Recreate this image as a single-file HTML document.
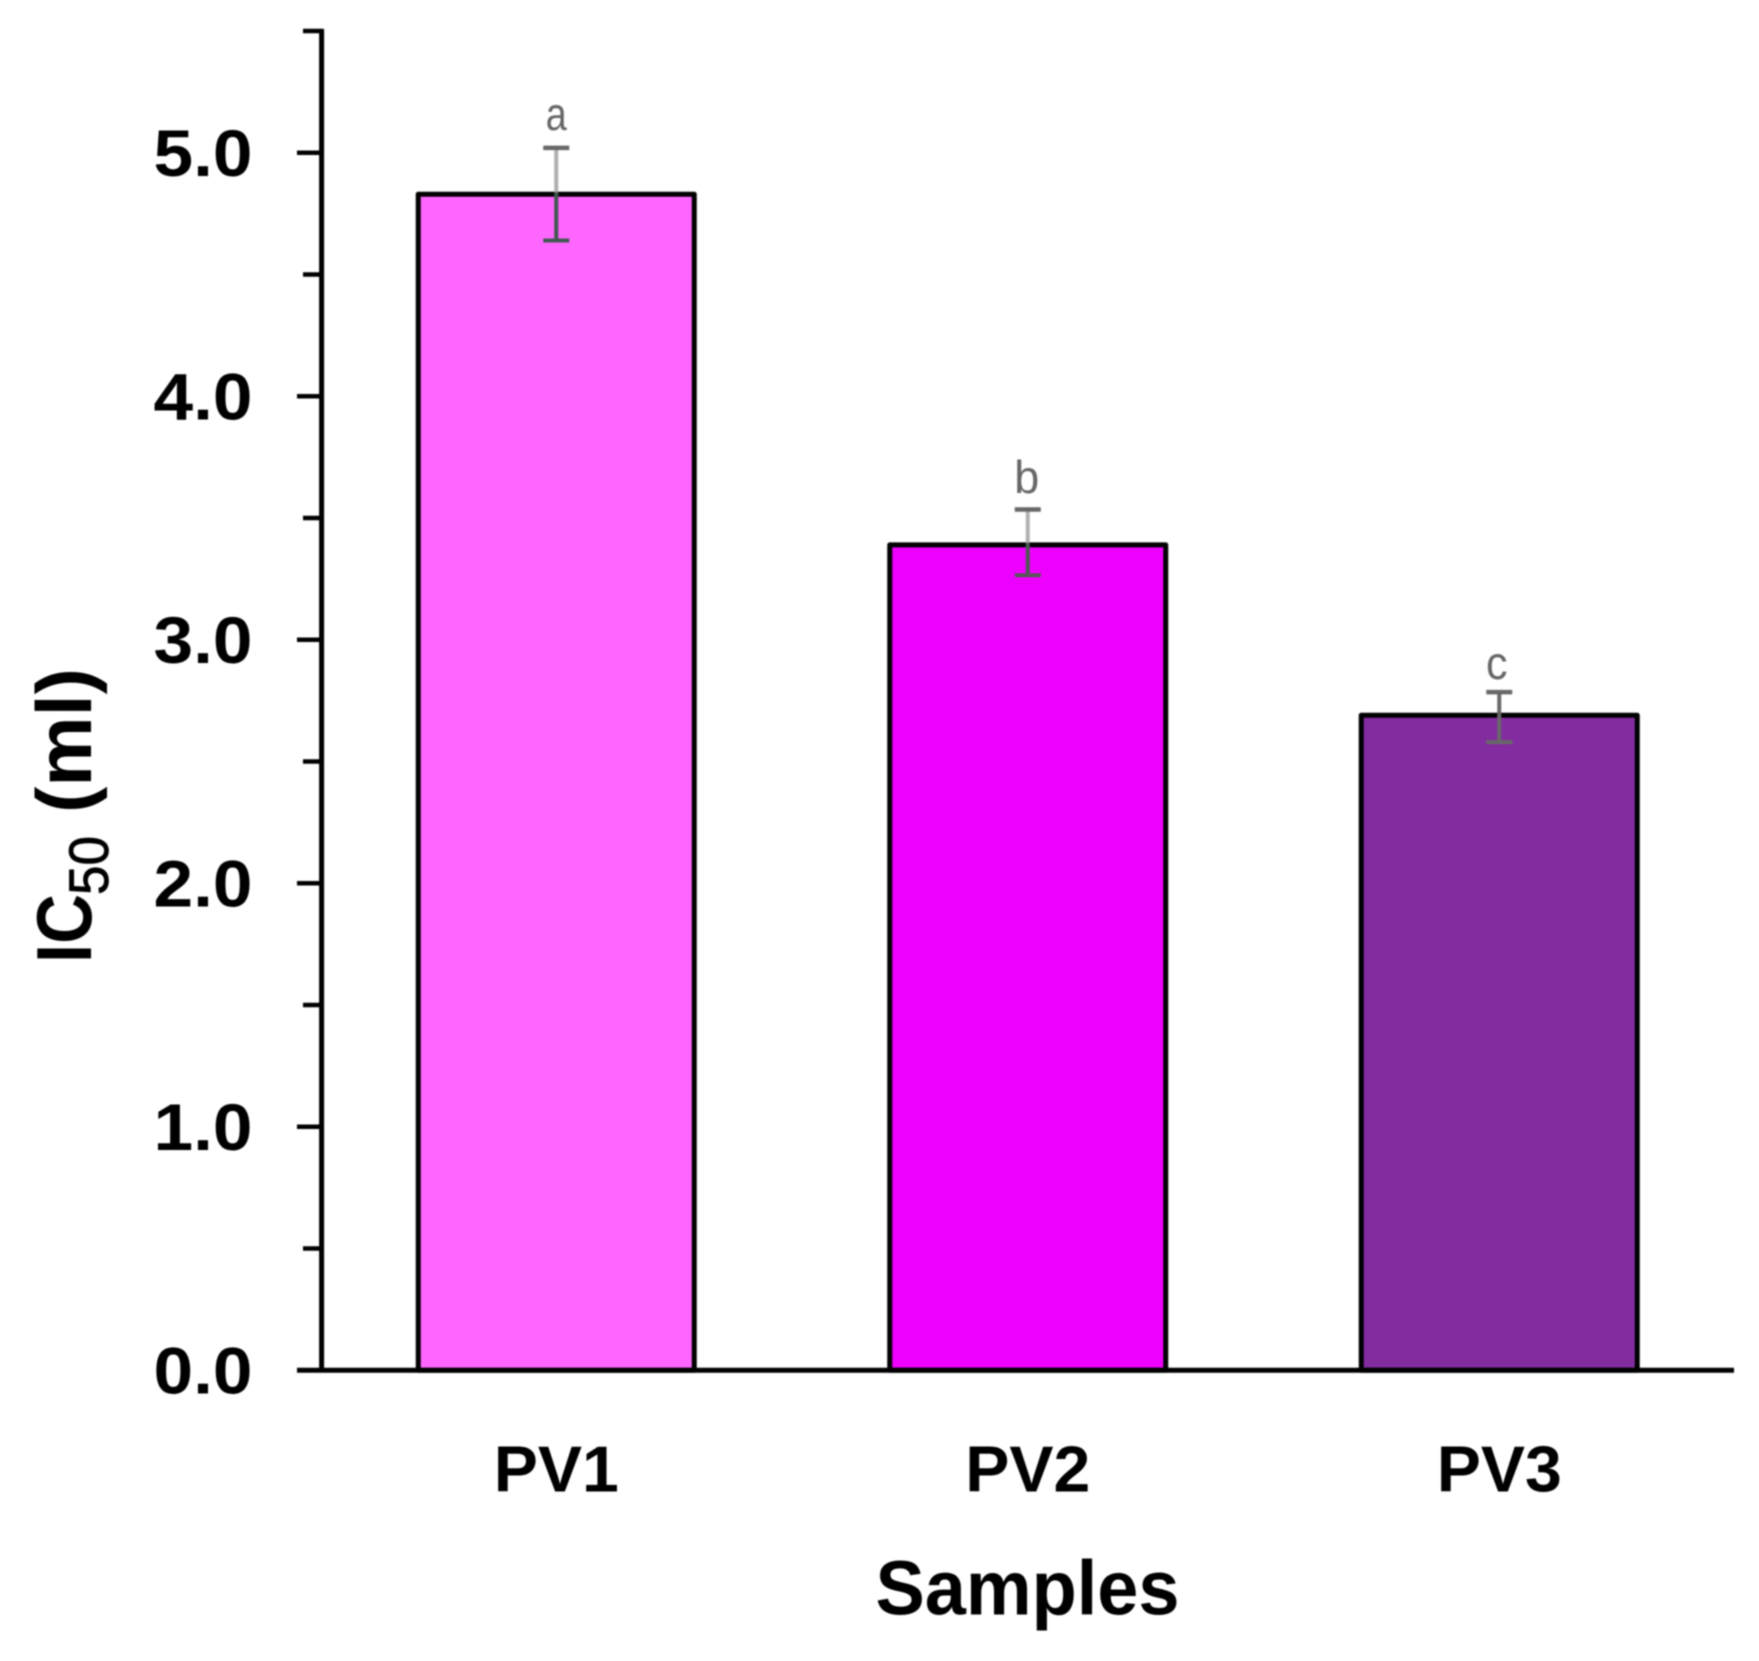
<!DOCTYPE html>
<html lang="en">
<head>
<meta charset="utf-8">
<title>IC50 by sample</title>
<style>
  html, body { margin: 0; padding: 0; background: #ffffff; }
  body { width: 1759px; height: 1661px; overflow: hidden; }
  svg { display: block; filter: blur(0.8px); }
  text { font-family: "Liberation Sans", sans-serif; }
</style>
</head>
<body>
<svg id="chart" xmlns="http://www.w3.org/2000/svg" width="1759" height="1661" viewBox="0 0 1759 1661">
  <rect x="0" y="0" width="1759" height="1661" fill="#ffffff"></rect>
  <g id="bars"></g>
  <g id="axes"></g>
  <g id="errors"></g>
  <g id="letters"></g>
  <g id="y-labels"></g>
  <g id="x-labels"></g>
  <text x="1027.5" y="1614.5" text-anchor="middle" font-size="77" font-weight="700" textLength="304" lengthAdjust="spacingAndGlyphs" fill="#000">Samples</text>
  <g transform="translate(91,958) rotate(-90)">
    <text x="-5" y="0" font-size="78" font-weight="700" textLength="69" lengthAdjust="spacingAndGlyphs" fill="#000">IC</text>
    <text x="63" y="17" font-size="56" font-weight="400" stroke="#000" stroke-width="0.8" textLength="59" lengthAdjust="spacingAndGlyphs" fill="#000">50</text>
    <text x="145" y="0" font-size="78" font-weight="700" textLength="145" lengthAdjust="spacingAndGlyphs" fill="#000">(ml)</text>
  </g>
</svg>
<script>
const categories = ["PV1", "PV2", "PV3"];
const values = [4.83, 3.39, 2.69];
const errorHigh = [5.02, 3.535, 2.785];
const errorLow = [4.64, 3.265, 2.58];
const letterLabels = ["a", "b", "c"];
const yTickValues = [0, 0.5, 1, 1.5, 2, 2.5, 3, 3.5, 4, 4.5, 5, 5.5];
const yTickLabels = ["0.0", "", "1.0", "", "2.0", "", "3.0", "", "4.0", "", "5.0", ""];

const barFills = ["#ff66ff", "#ee00ff", "#832ca0"];
const stemUpperColors = ["#b0b0b0", "#b0b0b0", "#686868"];
const stemLowerColors = ["#40584f", "#4a5a50", "#686868"];
const capUpperColors = ["#686868", "#686868", "#686868"];
const capLowerColors = ["#3f5a50", "#585858", "#686868"];
const letterGaps = [18, 16.5, 13.3];
const letterShifts = [0, -1, -2.5];
const letterWidths = [21, 25, 21.5];

const SVG_NS = "http://www.w3.org/2000/svg";
const zeroY = 1370.3, unitPx = 243.5;
const plotLeft = 320.5, bandPx = 471.5, barPx = 276;
const yAxisX = 321.6, axisRight = 1734;

function yScale(v) { return zeroY - unitPx * v; }
function xScale(i) { return plotLeft + bandPx * (i + 0.5); }

function make(parentId, tag, attrs, content) {
  const el = document.createElementNS(SVG_NS, tag);
  for (const k in attrs) el.setAttribute(k, attrs[k]);
  if (content !== undefined) el.textContent = content;
  document.getElementById(parentId).appendChild(el);
  return el;
}
function line(parentId, x1, y1, x2, y2, stroke, width) {
  return make(parentId, "line", { x1, y1, x2, y2, stroke, "stroke-width": width });
}

categories.forEach(function (cat, i) {
  const cx = xScale(i);
  const top = yScale(values[i]);
  const bar = make("bars", "rect", {
    x: cx - barPx / 2, y: top, width: barPx, height: zeroY - top,
    fill: barFills[i], stroke: "#000", "stroke-width": 5, "stroke-linejoin": "round"
  });
  
  

  const hi = yScale(errorHigh[i]), lo = yScale(errorLow[i]);
  const upper = line("errors", cx, hi, cx, top - 2, stemUpperColors[i], 4);
  
  
  const lower = line("errors", cx, top - 2, cx, lo, stemLowerColors[i], 4);
  
  
  const capHi = line("errors", cx - 13, hi, cx + 13, hi, capUpperColors[i], 4.5);
  
  
  const capLo = line("errors", cx - 13, lo, cx + 13, lo, capLowerColors[i], 4);
  
  

  const letter = make("letters", "text", {
    x: cx + letterShifts[i], y: hi - letterGaps[i], "text-anchor": "middle", "font-size": 46, fill: "#666666",
    textLength: letterWidths[i], lengthAdjust: "spacingAndGlyphs"
  }, letterLabels[i]);
  
  

  const lab = make("x-labels", "text", {
    x: cx, y: 1491.5, "text-anchor": "middle", "font-size": 65, "font-weight": 700,
    textLength: 125, lengthAdjust: "spacingAndGlyphs", fill: "#000"
  }, cat);
  
  
});

const yAxisLine = line("axes", yAxisX, yScale(yTickValues[yTickValues.length - 1]) - 2.2, yAxisX, zeroY, "#000", 5);



yTickValues.forEach(function (v, i) {
  const y = yScale(v);
  const labelled = yTickLabels[i] !== "";
  if (v !== 0) {
    const tick = line("axes", labelled ? 297 : 303, y, yAxisX, y, "#000", 4.5);
    
    
  }
  if (labelled) {
    const lab = make("y-labels", "text", {
      x: 252.5, y: y + 23, "text-anchor": "end", "font-size": 66, "font-weight": 700,
      textLength: 99, lengthAdjust: "spacingAndGlyphs", fill: "#000"
    }, yTickLabels[i]);
    
    
  }
});

const xAxisLine = line("axes", 297, zeroY, axisRight, zeroY, "#000", 5);


</script>
</body>
</html>
